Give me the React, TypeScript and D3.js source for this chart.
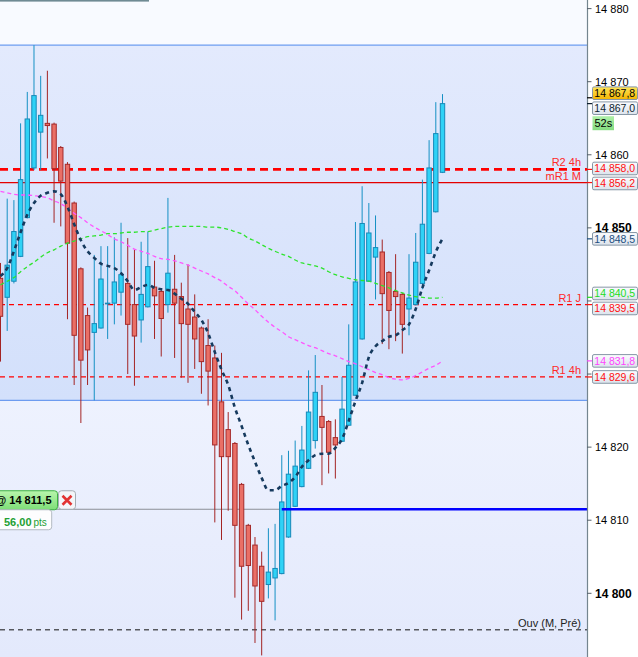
import * as d3 from "d3";
import { useEffect, useRef } from "react";

const W = 638;
const H = 657;
const AXIS_X = 587;
const FONT = "'Liberation Sans', Arial, sans-serif";

// OHLC, one entry per bar
const opens = [
  14843.1, 14840.5, 14842.7, 14846.1, 14851.4, 14858.2, 14863.1, 14864.3, 14864.2, 14861.0,
  14858.7, 14853.4, 14844.4, 14838.0, 14835.7, 14836.3, 14839.6, 14839.7, 14841.2, 14842.4,
  14839.5, 14837.4, 14839.2, 14841.9, 14841.3, 14839.5, 14841.6, 14840.6, 14838.9, 14837.8,
  14836.3, 14833.9, 14832.2, 14826.2, 14822.4, 14820.5, 14814.9, 14809.3, 14806.6, 14803.7,
  14801.2, 14802.1, 14802.7, 14807.7, 14811.9, 14814.6, 14817.1, 14820.9, 14824.2, 14823.5,
  14821.3, 14820.8, 14823.0, 14827.1, 14834.8, 14842.7, 14846.0, 14846.7, 14843.9, 14841.3,
  14840.9, 14838.9, 14839.5, 14842.4, 14846.5, 14852.2, 14857.6,
];
const highs = [
  14845.2, 14854.0, 14853.8, 14864.3, 14868.6, 14875.0, 14870.8, 14871.5, 14864.4, 14861.2,
  14859.0, 14853.6, 14844.6, 14839.1, 14846.3, 14847.5, 14847.5, 14848.7, 14850.7, 14848.6,
  14847.0, 14848.1, 14849.5, 14845.5, 14841.5, 14854.1, 14846.3, 14842.5, 14845.0, 14840.9,
  14836.5, 14837.5, 14833.9, 14832.9, 14824.8, 14820.7, 14815.1, 14809.5, 14807.7, 14805.7,
  14808.9, 14809.5, 14818.9, 14819.5, 14820.9, 14822.9, 14830.5, 14832.6, 14828.5, 14823.7,
  14823.8, 14829.6, 14836.8, 14850.8, 14855.7, 14853.4, 14851.7, 14848.4, 14844.1, 14846.4,
  14841.1, 14846.4, 14849.3, 14856.6, 14862.0, 14867.2, 14868.3,
];
const lows = [
  14831.7, 14835.9, 14842.4, 14846.0, 14851.3, 14857.9, 14857.9, 14859.5, 14850.7, 14850.2,
  14837.5, 14828.5, 14823.3, 14828.5, 14826.4, 14836.2, 14834.8, 14836.8, 14838.0, 14830.0,
  14828.4, 14834.3, 14839.1, 14834.8, 14832.4, 14838.4, 14832.2, 14829.5, 14828.8, 14830.7,
  14827.3, 14825.7, 14809.7, 14807.3, 14811.3, 14799.4, 14796.4, 14797.6, 14793.2, 14791.5,
  14799.3, 14796.3, 14802.6, 14807.6, 14811.8, 14814.5, 14817.0, 14819.8, 14814.8, 14816.4,
  14815.7, 14820.7, 14822.9, 14827.0, 14834.7, 14842.6, 14840.2, 14834.1, 14833.4, 14834.5,
  14832.8, 14835.3, 14839.4, 14841.6, 14846.4, 14852.1, 14857.5,
];
const closes = [
  14837.9, 14844.9, 14849.5, 14856.6, 14864.9, 14868.1, 14865.4, 14864.0, 14858.1, 14856.4,
  14847.9, 14835.3, 14831.9, 14833.3, 14836.9, 14843.0, 14839.7, 14842.6, 14843.6, 14836.8,
  14835.2, 14840.9, 14844.7, 14840.7, 14837.6, 14843.8, 14839.7, 14836.9, 14836.8, 14834.8,
  14831.7, 14830.4, 14820.3, 14818.7, 14818.7, 14809.3, 14803.7, 14803.8, 14801.0, 14798.9,
  14802.9, 14803.4, 14812.5, 14816.3, 14817.4, 14819.6, 14824.8, 14827.5, 14822.7, 14819.3,
  14820.3, 14825.2, 14831.2, 14842.6, 14850.6, 14849.3, 14847.3, 14841.0, 14838.7, 14840.6,
  14836.8, 14840.4, 14845.3, 14850.5, 14858.2, 14862.9, 14867.0,
];

// moving averages
const maNavy = [
  14843.4, 14844.5, 14846.8, 14849.4, 14851.8, 14853.4, 14854.4, 14854.8, 14855.0, 14854.6,
  14852.9, 14850.5, 14848.3, 14846.8, 14845.9, 14845.1, 14844.8, 14844.5, 14843.8, 14842.7,
  14841.5, 14841.9, 14842.2, 14841.8, 14841.6, 14841.5, 14841.0, 14840.3, 14839.6, 14838.5,
  14837.4, 14835.6, 14833.0, 14830.6, 14828.5, 14825.4, 14822.9, 14820.3, 14818.0, 14815.8,
  14814.1, 14814.1, 14814.7, 14815.1, 14815.9, 14817.3, 14818.2, 14818.9, 14819.1, 14819.1,
  14819.9, 14821.1, 14823.6, 14826.3, 14828.8, 14832.3, 14833.8, 14834.5, 14835.1, 14835.3,
  14836.0, 14836.8, 14838.9, 14841.8, 14844.2, 14846.7, 14848.5,
];
const maGreen = [
  14842.2, 14842.7, 14843.2, 14844.0, 14844.7, 14845.3, 14846.0, 14846.6, 14847.0, 14847.5,
  14847.9, 14848.2, 14848.5, 14848.8, 14848.9, 14849.0, 14849.2, 14849.2, 14849.3, 14849.4,
  14849.4, 14849.5, 14849.5, 14849.7, 14849.9, 14850.1, 14850.2, 14850.2, 14850.2, 14850.2,
  14850.2, 14850.1, 14850.1, 14850.0, 14849.8, 14849.5, 14849.2, 14848.6, 14848.2, 14847.7,
  14847.2, 14846.8, 14846.4, 14846.1, 14845.6, 14845.2, 14845.0, 14844.8, 14844.5, 14844.0,
  14843.6, 14843.3, 14843.1, 14842.9, 14842.8, 14842.7, 14842.4, 14842.1, 14841.8, 14841.4,
  14841.1, 14840.8, 14840.6, 14840.5, 14840.4, 14840.4, 14840.5,
];
const maMagenta = [
  14855.0, 14854.8, 14854.6, 14854.5, 14854.5, 14854.4, 14854.3, 14854.1, 14853.7, 14853.3,
  14852.7, 14852.0, 14851.4, 14850.7, 14850.1, 14849.6, 14849.1, 14848.5, 14848.1, 14847.6,
  14847.1, 14846.8, 14846.5, 14846.1, 14845.8, 14845.7, 14845.5, 14845.2, 14844.9, 14844.5,
  14844.1, 14843.7, 14843.2, 14842.7, 14842.0, 14841.4, 14840.5, 14839.6, 14838.8, 14837.9,
  14837.1, 14836.4, 14835.8, 14835.1, 14834.7, 14834.3, 14833.9, 14833.6, 14833.2, 14832.8,
  14832.5, 14832.1, 14831.7, 14831.4, 14831.0, 14830.6, 14830.2, 14829.9, 14829.5, 14829.3,
  14829.2, 14829.4, 14829.8, 14830.3, 14830.8, 14831.2, 14831.8,
];

// axis
const tickLabels = [14880, 14870, 14860, 14850, 14820, 14810, 14800];
const boldTicks = [14850, 14800];

// horizontal levels
const levelNames = ["R2 4h", "mR1 M", "R1 J", "R1 4h", "Ouv (M, Pré)"];
const levelPrices = [14858.0, 14856.2, 14839.5, 14829.6, 14795.0];
const levelColors = ["#ff0000", "#e40000", "#ff0000", "#ff0000", "#111111"];
const levelWidths = [2.6, 1.2, 1.2, 1.2, 1];
const levelDashes = ["8,5", "none", "5,4", "5,4", "5,4"];
const levelTextColors = ["#ff2a2a", "#ff2a2a", "#ff2a2a", "#ff2a2a", "#222222"];

// price tags on the axis
const tagPrices = [14867.8, 14867.0, 14858.0, 14856.2, 14848.5, 14840.5, 14839.5, 14831.8, 14829.6];
const tagColors = ["#000000", "#0e1e2e", "#ff1010", "#ff1010", "#1d4f80", "#22dd22", "#ff1010", "#ff44ff", "#ff1010"];

const rangeHigh = 14875.0;
const rangeLow = 14826.4;
const entryPrice = 14811.5;
const entryBar = 42;
const pnlPoints = 56;
const timer = "52s";

const fr = d3.formatLocale({ decimal: ",", thousands: " ", grouping: [3], currency: ["", ""] });
const fmt1 = fr.format(",.1f");
const fmt0 = fr.format(",.0f");
const fmt2 = fr.format(",.2f");

const Chart = () => {
  const svgRef = useRef<SVGSVGElement | null>(null);

  useEffect(() => {
    const root = d3.select(svgRef.current);
    root.selectAll("*").remove();
    const svg = root.attr("width", W).attr("height", H).style("font-family", FONT);

    const y = d3.scaleLinear().domain([14800, 14870]).range([593.3, 81.7]);
    const x = d3.scaleLinear().domain([0, opens.length - 1]).range([0.5, 442.5]);

    const defs = svg.append("defs");
    const grad = (id: string, stops: [string, string]) => {
      const g = defs.append("linearGradient").attr("id", id).attr("x1", 0).attr("y1", 0).attr("x2", 0).attr("y2", 1);
      g.append("stop").attr("offset", "0%").attr("stop-color", stops[0]);
      g.append("stop").attr("offset", "100%").attr("stop-color", stops[1]);
    };
    grad("bandBg", ["#e3eafd", "#d3e0fb"]);
    grad("lowBg", ["#eef2fe", "#e3e9fc"]);
    grad("tagBg", ["#fbfcfe", "#dce3ec"]);
    grad("yellowBg", ["#ffe65a", "#f4b400"]);
    grad("greenBg", ["#b8f5ac", "#7ede78"]);
    grad("timerBg", ["#aef0a8", "#84dc80"]);

    // backgrounds
    svg.append("rect").attr("width", AXIS_X).attr("height", y(rangeHigh)).attr("fill", "#f8faff");
    svg.append("rect").attr("y", y(rangeHigh)).attr("width", AXIS_X)
      .attr("height", y(rangeLow) - y(rangeHigh)).attr("fill", "url(#bandBg)");
    svg.append("rect").attr("y", y(rangeLow)).attr("width", AXIS_X)
      .attr("height", H - y(rangeLow)).attr("fill", "url(#lowBg)");
    svg.append("rect").attr("x", AXIS_X).attr("width", W - AXIS_X).attr("height", H).attr("fill", "#ffffff");

    // separator from the panel above
    svg.append("rect").attr("width", 149).attr("height", 1.6).attr("fill", "#6f8a93");

    // range borders
    [rangeHigh, rangeLow].forEach((p) => {
      svg.append("line").attr("x1", 0).attr("x2", AXIS_X).attr("y1", y(p)).attr("y2", y(p))
        .attr("stroke", "#6d9cf0").attr("stroke-width", 1.4);
    });

    // levels
    levelPrices.forEach((p, i) => {
      svg.append("line").attr("x1", 0).attr("x2", AXIS_X).attr("y1", y(p)).attr("y2", y(p))
        .attr("stroke", levelColors[i]).attr("stroke-width", levelWidths[i])
        .attr("stroke-dasharray", levelDashes[i]);
      svg.append("text").attr("x", 581).attr("y", y(p) - 3).attr("text-anchor", "end")
        .attr("font-size", 11).attr("fill", levelTextColors[i]).text(levelNames[i]);
    });

    // entry line: grey before entry, blue after
    svg.append("line").attr("x1", 0).attr("x2", x(entryBar)).attr("y1", y(entryPrice)).attr("y2", y(entryPrice))
      .attr("stroke", "#8a8f96").attr("stroke-width", 1);

    // candles
    const bars = d3.range(opens.length);
    const up = (i: number) => closes[i] >= opens[i];
    const g = svg.append("g");
    g.selectAll("line.wick").data(bars).join("line").attr("class", "wick")
      .attr("x1", (i) => x(i)).attr("x2", (i) => x(i))
      .attr("y1", (i) => y(highs[i])).attr("y2", (i) => y(lows[i]))
      .attr("stroke", (i) => (up(i) ? "#1590c4" : "#a32424")).attr("stroke-width", 1);
    g.selectAll("rect.body").data(bars).join("rect").attr("class", "body")
      .attr("x", (i) => x(i) - 2.2).attr("width", 4.4)
      .attr("y", (i) => y(Math.max(opens[i], closes[i])))
      .attr("height", (i) => Math.max(0.6, Math.abs(y(opens[i]) - y(closes[i]))))
      .attr("fill", (i) => (up(i) ? "#2fd2f6" : "#ea6f66"))
      .attr("stroke", (i) => (up(i) ? "#1689b8" : "#a42a2a")).attr("stroke-width", 1);

    svg.append("line").attr("x1", x(entryBar)).attr("x2", AXIS_X).attr("y1", y(entryPrice)).attr("y2", y(entryPrice))
      .attr("stroke", "#0000ff").attr("stroke-width", 2.6);

    // moving averages
    const line = d3.line<number>().x((_, i) => x(i)).y((d) => y(d)).curve(d3.curveMonotoneX);
    svg.append("path").attr("d", line(maGreen)).attr("fill", "none")
      .attr("stroke", "#2ee42e").attr("stroke-width", 1.3).attr("stroke-dasharray", "4,3");
    svg.append("path").attr("d", line(maMagenta)).attr("fill", "none")
      .attr("stroke", "#ff55ff").attr("stroke-width", 1.3).attr("stroke-dasharray", "4,3");
    svg.append("path").attr("d", line(maNavy)).attr("fill", "none")
      .attr("stroke", "#163a5e").attr("stroke-width", 2.6).attr("stroke-dasharray", "4,4");

    // price axis
    svg.append("line").attr("x1", AXIS_X + 0.5).attr("x2", AXIS_X + 0.5).attr("y1", 0).attr("y2", H)
      .attr("stroke", "#74858f").attr("stroke-width", 1.2);
    d3.range(14800, 14881, 10).forEach((v) => {
      svg.append("line").attr("x1", AXIS_X).attr("x2", AXIS_X + 4.5).attr("y1", y(v)).attr("y2", y(v))
        .attr("stroke", "#55606a").attr("stroke-width", 1);
    });
    tickLabels.forEach((v) => {
      const bold = boldTicks.includes(v);
      svg.append("text").attr("x", 595).attr("y", y(v)).attr("dy", "0.36em")
        .attr("font-size", bold ? 12 : 11).attr("font-weight", bold ? "bold" : "normal")
        .attr("fill", "#000").text(fmt0(v));
    });

    // price tags, spread apart when they overlap
    const tags = tagPrices.map((p, i) => ({ p, color: tagColors[i], cy: y(p) }));
    tags.sort((a, b) => a.cy - b.cy);
    for (let k = 0; k < 20; k++) {
      for (let i = 1; i < tags.length; i++) {
        const d = tags[i].cy - tags[i - 1].cy;
        if (d < 15) {
          const s = (15 - d) / 2;
          tags[i - 1].cy -= s;
          tags[i].cy += s;
        }
      }
    }
    tags.forEach((t) => {
      svg.append("line").attr("x1", AXIS_X).attr("x2", 593).attr("y1", y(t.p)).attr("y2", y(t.p))
        .attr("stroke", t.color).attr("stroke-width", 1.2);
      svg.append("rect").attr("x", 592.5).attr("y", t.cy - 6.3).attr("width", 45).attr("height", 12.6)
        .attr("rx", 1.5).attr("fill", t.p === tagPrices[0] ? "url(#yellowBg)" : "url(#tagBg)")
        .attr("stroke", "#8797a6").attr("stroke-width", 1);
      svg.append("text").attr("x", 594.3).attr("y", t.cy).attr("dy", "0.36em").attr("font-size", 10.5)
        .attr("fill", t.color).text(fmt1(t.p));
    });
    const last = tags.find((t) => t.p === tagPrices[1]);
    if (last) {
      svg.append("rect").attr("x", 592.5).attr("y", last.cy + 8).attr("width", 21.5).attr("height", 14)
        .attr("fill", "url(#timerBg)");
      svg.append("text").attr("x", 594.5).attr("y", last.cy + 15).attr("dy", "0.36em").attr("font-size", 11)
        .attr("fill", "#000").text(timer);
    }

    // position box
    const py = y(entryPrice);
    svg.append("rect").attr("x", -3).attr("y", py - 18.5).attr("width", 60.5).attr("height", 19)
      .attr("rx", 3).attr("fill", "url(#greenBg)").attr("stroke", "#3cb043");
    svg.append("text").attr("x", -4.5).attr("y", py - 9).attr("dy", "0.36em").attr("font-size", 11)
      .attr("font-weight", "bold").attr("fill", "#000").text(`@ ${fmt1(entryPrice)}`);
    svg.append("rect").attr("x", 58.5).attr("y", py - 18.5).attr("width", 17).attr("height", 18.5)
      .attr("rx", 3).attr("fill", "#f3f5f9").attr("stroke", "#a3abb3");
    svg.append("path").attr("d", `M62.5,${py - 13.5}L71.5,${py - 4.5}M71.5,${py - 13.5}L62.5,${py - 4.5}`)
      .attr("stroke", "#e23232").attr("stroke-width", 2.6);
    svg.append("rect").attr("x", -3).attr("y", py + 0.5).attr("width", 54.7).attr("height", 20)
      .attr("rx", 3).attr("fill", "#fdfdfe").attr("stroke", "#b3bac2");
    const pts = svg.append("text").attr("x", 4).attr("y", py + 10.5).attr("dy", "0.36em").attr("fill", "#22a033");
    pts.append("tspan").attr("font-size", 11).attr("font-weight", "bold").text(fmt2(pnlPoints));
    pts.append("tspan").attr("font-size", 10).attr("dx", 2).text("pts");
  }, []);

  return <svg ref={svgRef} style={{ position: "absolute", left: 0, top: 0, display: "block" }} />;
};

export default function App() {
  return <Chart />;
}
